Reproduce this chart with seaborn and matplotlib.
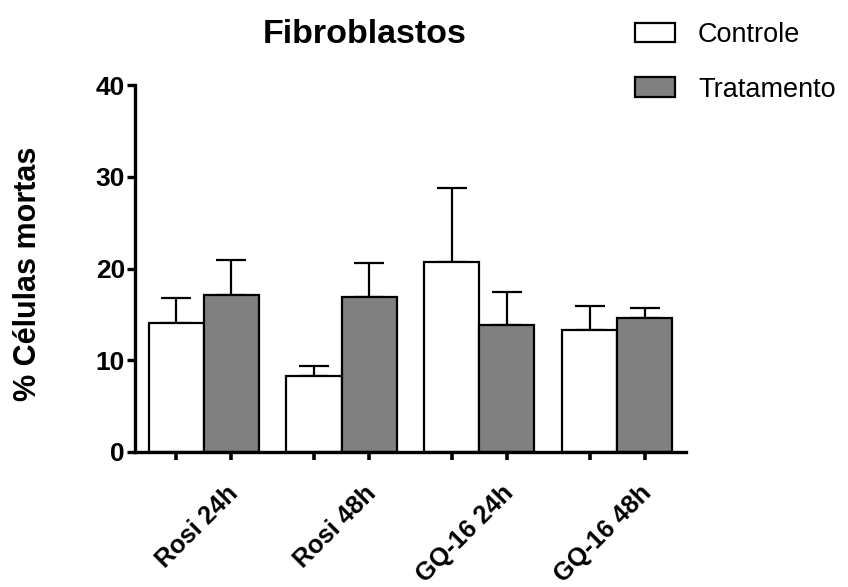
import numpy as np
import pandas as pd
import matplotlib
matplotlib.use("Agg")
import matplotlib.pyplot as plt
import matplotlib.transforms as mtransforms
import seaborn as sns

# values
grupos = ["Rosi 24h", "Rosi 48h", "GQ-16 24h", "GQ-16 48h"]
controle = [14.1, 8.3, 20.7, 13.3]
controle_err = [2.7, 1.1, 8.1, 2.6]
tratamento = [17.1, 16.9, 13.8, 14.6]
tratamento_err = [3.8, 3.7, 3.6, 1.1]
series = ["Controle", "Tratamento"]

df = pd.DataFrame({
    "grupo": grupos * 2,
    "serie": [series[0]] * len(grupos) + [series[1]] * len(grupos),
    "valor": controle + tratamento,
})

sns.set_style("ticks")
plt.rcParams["font.family"] = ["Liberation Sans", "DejaVu Sans"]
plt.rcParams["text.color"] = "black"
plt.rcParams["xtick.color"] = "black"
plt.rcParams["ytick.color"] = "black"
plt.rcParams["axes.labelcolor"] = "black"
plt.rcParams["axes.edgecolor"] = "black"

fig = plt.figure(figsize=(8.48, 5.87), dpi=100)
ax = fig.add_axes([0.159, 0.23, 0.65, 0.625])

sns.barplot(data=df, x="grupo", y="valor", hue="serie", order=grupos,
            hue_order=series, palette=["white", "#808080"], width=0.8,
            edgecolor="black", linewidth=1.6, errorbar=None, ax=ax, zorder=2)

# upper error bars only
for cont, errs in zip(ax.containers, [controle_err, tratamento_err]):
    xs = [p.get_x() + p.get_width() / 2 for p in cont]
    hs = [p.get_height() for p in cont]
    ax.errorbar(xs, hs, yerr=[np.zeros(len(errs)), errs], fmt="none",
                ecolor="black", elinewidth=1.6, capsize=11, capthick=1.6, zorder=1)
    # minor ticks at every bar centre
    ax.set_xticks(list(ax.get_xticks(minor=True)) + xs, minor=True)

handles, labels = ax.get_legend_handles_labels()
ax.get_legend().remove()

ax.set_xlim(-0.5, 3.5)
ax.set_ylim(0, 40)
ax.set_yticks([0, 10, 20, 30, 40])
sns.despine(ax=ax)
ax.spines["left"].set_linewidth(2.4)
ax.spines["bottom"].set_linewidth(2.4)

ax.tick_params(axis="y", length=6, width=2.4, labelsize=19, pad=1)
ax.tick_params(axis="x", which="major", length=0, labelsize=18.2, pad=21)
ax.tick_params(axis="x", which="minor", length=6, width=2.6)
shift = mtransforms.ScaledTranslation(0.39, 0, fig.dpi_scale_trans)
for lab in ax.get_xticklabels() + ax.get_yticklabels():
    lab.set_fontweight("bold")
for lab in ax.get_xticklabels():
    lab.set_rotation(45)
    lab.set_ha("right")
    lab.set_transform(lab.get_transform() + shift)

ax.set_xlabel("")
ax.set_ylabel("% Células mortas", fontsize=22, fontweight="bold")
ax.yaxis.set_label_coords(-0.167, 0.485)

fig.text(365 / 848, 1 - 43 / 587, "Fibroblastos", ha="center", va="baseline",
         fontsize=24.5, fontweight="bold")

fig.legend(handles, labels, loc="upper left", bbox_to_anchor=(635 / 848, 1 - 22 / 587),
           frameon=False, fontsize=19.5,
           handlelength=1.48, handleheight=0.74, handletextpad=0.85,
           labelspacing=1.06, borderpad=0, borderaxespad=0)

fig.savefig("out.png", dpi=100)
